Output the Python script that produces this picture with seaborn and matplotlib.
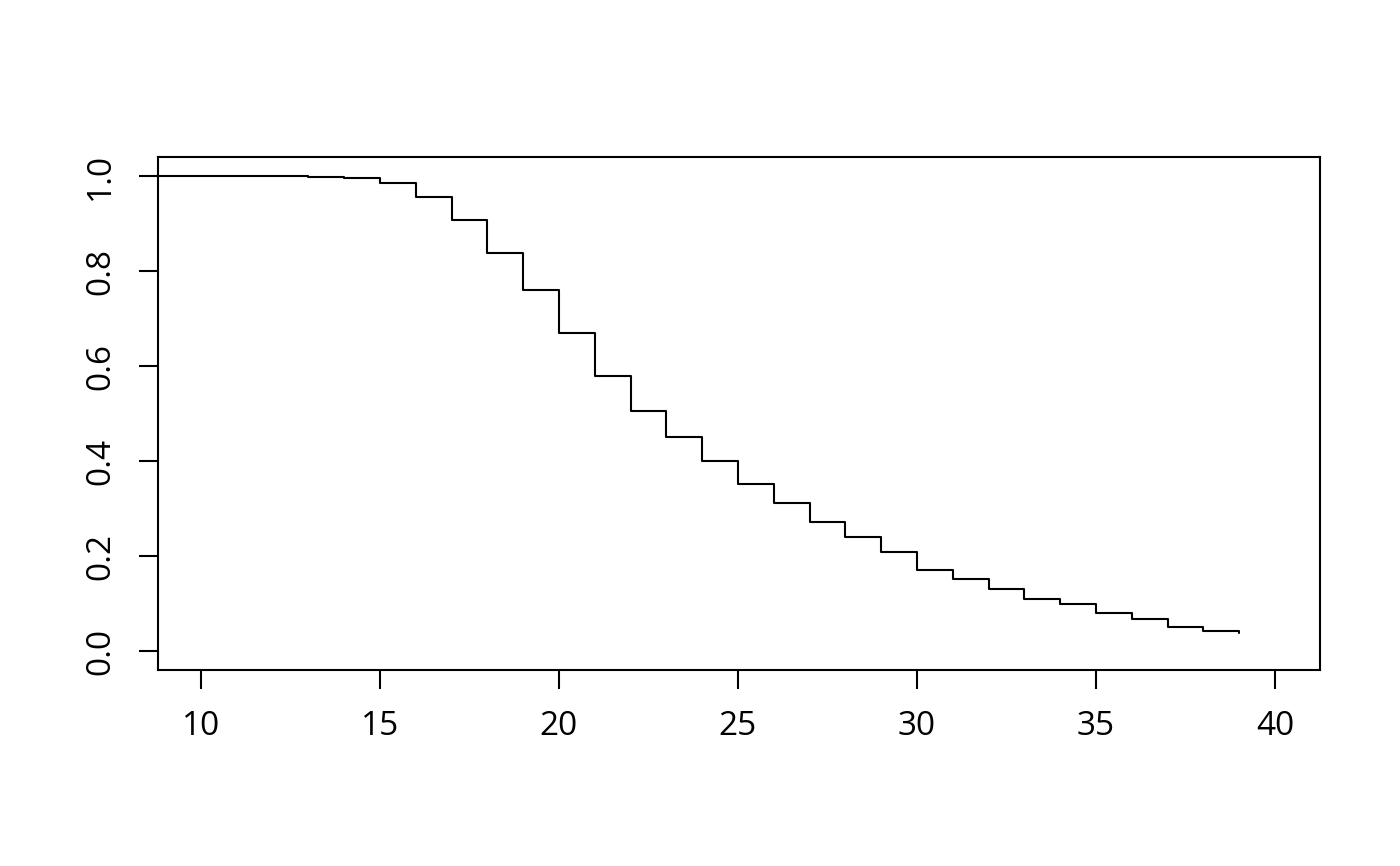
import numpy as np
import pandas as pd
import matplotlib
matplotlib.use("Agg")
import matplotlib.pyplot as plt
import seaborn as sns

# step function values (value holds from each time onward)
times = [0, 11, 13, 14, 15, 16, 17, 18, 19, 20, 21, 22, 23, 24, 25, 26, 27,
         28, 29, 30, 31, 32, 33, 34, 35, 36, 37, 38, 39]
surv = [1.0, 0.999, 0.997, 0.996, 0.986, 0.956, 0.908, 0.837, 0.761, 0.670,
        0.579, 0.505, 0.450, 0.401, 0.351, 0.312, 0.272, 0.239, 0.208, 0.171,
        0.151, 0.130, 0.109, 0.100, 0.079, 0.068, 0.051, 0.042, 0.037]
x_ticks = [10, 15, 20, 25, 30, 35, 40]
y_ticks = [0.0, 0.2, 0.4, 0.6, 0.8, 1.0]
y_labels = ["0.0", "0.2", "0.4", "0.6", "0.8", "1.0"]

df = pd.DataFrame({"time": times, "surv": surv})

sns.set_theme(style="white")
plt.rcParams['font.family'] = ['Open Sans', 'DejaVu Sans']

fig = plt.figure(figsize=(14, 8.66), dpi=100)
ax = fig.add_axes([0.1129, 0.2263, 0.8300, 0.5924])

sns.lineplot(data=df, x="time", y="surv", drawstyle="steps-post",
             color="black", linewidth=1.5, ax=ax, estimator=None)

ax.set_xlim(8.8, 41.26)
ax.set_ylim(-0.04, 1.04)
ax.set_xticks(x_ticks)
ax.set_xticklabels([str(t) for t in x_ticks])
ax.set_yticks(y_ticks)
ax.set_yticklabels(y_labels, rotation=90, va="center")
ax.set_xlabel("")
ax.set_ylabel("")

for s in ax.spines.values():
    s.set_visible(True)
    s.set_color("black")
    s.set_linewidth(1.5)

# R-style outward ticks on bottom and left only
ax.tick_params(axis="both", direction="out", length=13.5, width=1.5,
               color="black", labelsize=24, labelcolor="black",
               bottom=True, left=True, top=False, right=False)
ax.tick_params(axis="x", pad=15)
ax.tick_params(axis="y", pad=16)

fig.savefig("out.png", dpi=100, facecolor="white")
